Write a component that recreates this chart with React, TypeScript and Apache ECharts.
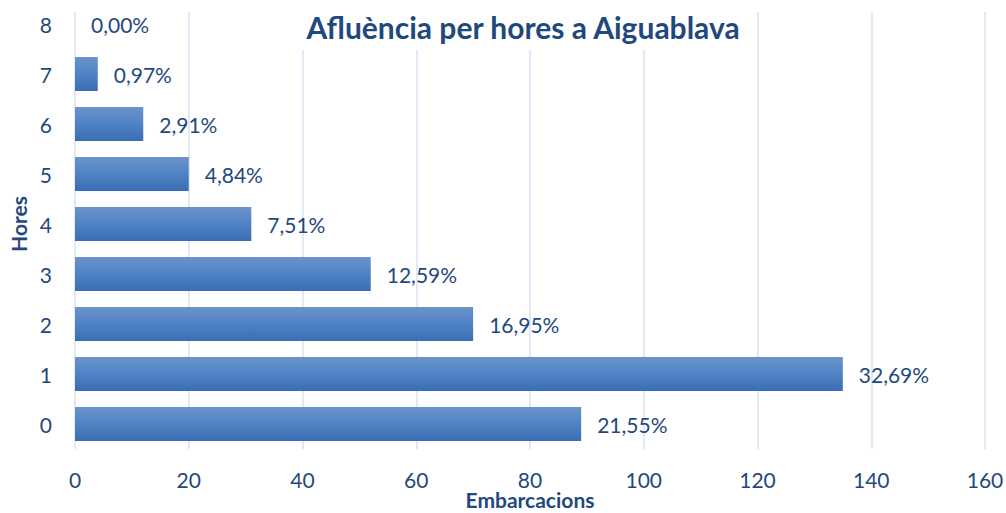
import React, { useEffect, useRef } from "react";
import * as echarts from "echarts";

const hours = ["0", "1", "2", "3", "4", "5", "6", "7", "8"];
const boats = [89, 135, 70, 52, 31, 20, 12, 4, 0];
const percentLabels = ["21,55%", "32,69%", "16,95%", "12,59%", "7,51%", "4,84%", "2,91%", "0,97%", "0,00%"];
const xTicks = [0, 20, 40, 60, 80, 100, 120, 140, 160];
const xAxisName = "Embarcacions";

const TEXT = "#1F497D";
const FONT = "Lato, 'Open Sans', sans-serif";

export default function App() {
  const ref = useRef<HTMLDivElement>(null);
  useEffect(() => {
    if (!ref.current) return;
    const chart = echarts.init(ref.current, undefined, { renderer: "svg" });
    chart.setOption({
      animation: false,
      backgroundColor: "#ffffff",
      textStyle: { fontFamily: FONT },
      title: {
        text: "Afluència per hores a Aiguablava",
        left: 518,
        top: 7,
        textAlign: "center",
        textStyle: { fontFamily: FONT, fontWeight: "bold", fontSize: 30, color: TEXT },
      },
      graphic: [
        { type: "rect", left: 60, top: 0, shape: { width: 946, height: 12 }, style: { fill: "#ffffff" }, z: 5 },
        { type: "rect", left: 292, top: 12, shape: { width: 458, height: 38 }, style: { fill: "#ffffff" }, z: 5 },
        {
          type: "text",
          x: 530,
          y: 499,
          style: {
            text: xAxisName,
            fill: TEXT,
            font: "bold 21px Lato, 'Open Sans', sans-serif",
            textAlign: "center",
            textVerticalAlign: "middle",
          },
          z: 10,
        },
      ],
      grid: { left: 75, width: 910, top: -1, bottom: 64, containLabel: false, outerBoundsMode: "none" },
      xAxis: {
        type: "value",
        min: 0,
        max: 160,
        interval: 20,
        axisLine: { show: false },
        axisTick: { show: false },
        axisLabel: {
          fontFamily: FONT,
          fontSize: 21,
          color: TEXT,
          margin: 20,
          formatter: (v: number) => (xTicks.includes(v) ? String(v) : ""),
        },
        splitLine: { show: true, lineStyle: { color: "#D6E2F2", width: 1.5 } },
      },
      yAxis: {
        type: "category",
        data: hours,
        name: "Hores",
        nameLocation: "middle",
        nameGap: 45,
        nameRotate: 90,
        nameTextStyle: { fontFamily: FONT, fontWeight: "bold", fontSize: 21, color: TEXT },
        axisLine: { show: false },
        axisTick: { show: false },
        axisLabel: { fontFamily: FONT, fontSize: 21, color: TEXT, margin: 23 },
        splitLine: { show: false },
      },
      series: [
        {
          type: "bar",
          data: boats,
          barCategoryGap: "32%",
          itemStyle: {
            color: new echarts.graphic.LinearGradient(0, 0, 0, 1, [
              { offset: 0, color: "#6B93CA" },
              { offset: 0.5, color: "#4F83C5" },
              { offset: 1, color: "#3A6DB2" },
            ]),
          },
          label: {
            show: true,
            position: "right",
            distance: 16,
            fontFamily: FONT,
            fontSize: 21,
            color: TEXT,
            formatter: (p: any) => percentLabels[p.dataIndex],
          },
        },
      ],
    });
    return () => chart.dispose();
  }, []);
  return <div ref={ref} style={{ width: 1006, height: 513, position: "absolute", left: 0, top: 0 }} />;
}
